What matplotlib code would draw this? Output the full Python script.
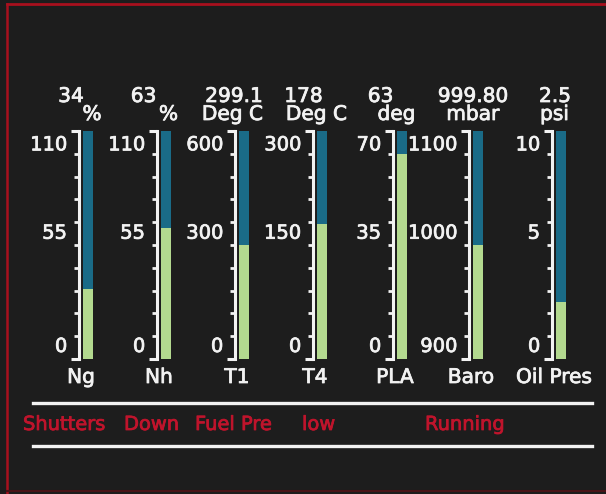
import numpy as np
import matplotlib.pyplot as plt
import matplotlib.patheffects as pe
from matplotlib.lines import Line2D

plt.rcParams['font.family'] = 'DejaVu Sans'

# gauge data
names = ['Ng', 'Nh', 'T1', 'T4', 'PLA', 'Baro', 'Oil Pres']
values = [34, 63, 299.1, 178, 63, 999.80, 2.5]
value_text = ['34', '63', '299.1', '178', '63', '999.80', '2.5']
units = ['%', '%', 'Deg C', 'Deg C', 'deg', 'mbar', 'psi']
scale_min = [0, 0, 0, 0, 0, 900, 0]
scale_max = [110, 110, 600, 300, 70, 1100, 10]
scale_labels = [['0', '55', '110'], ['0', '55', '110'], ['0', '300', '600'],
                ['0', '150', '300'], ['0', '35', '70'], ['900', '1000', '1100'],
                ['0', '5', '10']]
status_words = ['Shutters', 'Down', 'Fuel Pre', 'low', 'Running']

# layout (pixels)
W, H = 606, 494
line_x = [79, 157, 235, 313, 393, 469, 552]
val_dx = [-8, -13.5, -1, -9.5, -12.5, 4, 3]
unit_dx = [13, 11.5, -2.5, 3.5, 3.5, 4, 2.5]
status_x = [23, 124, 195, 302, 425]
top_px, bot_px = 131, 359

bg = '#1d1d1d'
blue = '#1a6b87'
green = '#b3d98f'
white = '#f2f2f2'
red = '#c0142c'


def fx(px):
    return px / W


def fy(py):
    return 1 - py / H


def thick(color):
    # photo text is heavier than DejaVu regular
    return [pe.withStroke(linewidth=0.55, foreground=color)]


fig = plt.figure(figsize=(W / 100, H / 100), dpi=100, facecolor=bg)

for i in range(len(names)):
    lo, hi = scale_min[i], scale_max[i]
    ax = fig.add_axes([fx(line_x[i]), fy(bot_px), 15 / W, (bot_px - top_px) / H])
    ax.set_facecolor('none')
    ax.bar(0.62, hi - lo, bottom=lo, width=0.68, color=blue)
    ax.bar(0.62, values[i] - lo, bottom=lo, width=0.68, color=green)
    ax.set_xlim(0, 1)
    ax.set_ylim(lo, hi)
    for s in ['top', 'right', 'bottom']:
        ax.spines[s].set_visible(False)
    ax.spines['left'].set_color(white)
    ax.spines['left'].set_linewidth(2.2)
    ax.spines['left'].set_capstyle('projecting')
    ax.set_xticks([])
    ax.set_yticks([lo, hi])
    ax.set_yticks(np.linspace(lo, hi, 11)[1:-1], minor=True)
    ax.tick_params(axis='y', which='major', length=6, width=2.2, color=white,
                   labelleft=False)
    ax.tick_params(axis='y', which='minor', length=3.6, width=2, color=white)

    trans = ax.get_yaxis_transform()
    lab = scale_labels[i]
    for txt, yv, dy in [(lab[0], lo, 9), (lab[1], (lo + hi) / 2, 8.5), (lab[2], hi, -10)]:
        ax.annotate(txt, xy=(0, yv), xycoords=trans, xytext=(-8.5, dy),
                    textcoords='offset points', ha='right', va='center',
                    color=white, fontsize=14, path_effects=thick(white))

    fig.text(fx(line_x[i] + val_dx[i]), fy(102), value_text[i], ha='center',
             va='baseline', color=white, fontsize=14.5, path_effects=thick(white))
    fig.text(fx(line_x[i] + unit_dx[i]), fy(120), units[i], ha='center',
             va='baseline', color=white, fontsize=14.5, path_effects=thick(white))
    fig.text(fx(line_x[i] + 2), fy(383), names[i], ha='center',
             va='baseline', color=white, fontsize=14.5, path_effects=thick(white))

# status area
for yy in [403, 446]:
    fig.add_artist(Line2D([fx(33), fx(592)], [fy(yy), fy(yy)], color=white, lw=2.4))
for word, x in zip(status_words, status_x):
    fig.text(fx(x), fy(430), word, ha='left', va='baseline', color=red,
             fontsize=14, path_effects=thick(red))

# red frame of the display
fig.add_artist(Line2D([fx(6.5), fx(606)], [fy(4), fy(4)], color='#a8101e', lw=2))
fig.add_artist(Line2D([fx(6.5), fx(6.5)], [fy(4), fy(494)], color='#a8101e', lw=1.8))
fig.add_artist(Line2D([fx(6.5), fx(606)], [fy(491), fy(491)], color='#4a1418', lw=1.5))

fig.savefig('out.png', dpi=100, facecolor=fig.get_facecolor())
